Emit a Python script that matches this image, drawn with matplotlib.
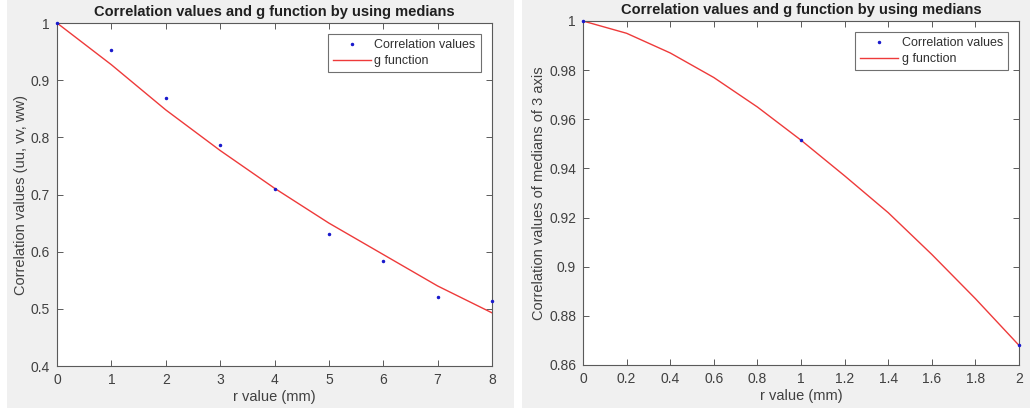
import numpy as np
import matplotlib
matplotlib.use('Agg')
import matplotlib.pyplot as plt
from matplotlib.patches import Rectangle
from matplotlib.ticker import FormatStrFormatter

plt.rcParams['font.family'] = ['Liberation Sans', 'DejaVu Sans']

# datos
r_pts = [0, 1, 2, 3, 4, 5, 6, 7, 8]
corr_pts = [1.0, 0.952, 0.868, 0.786, 0.709, 0.631, 0.583, 0.520, 0.514]
r_g = [0, 1, 2, 3, 4, 5, 6, 7, 8]
g_vals = [1.0, 0.927, 0.848, 0.777, 0.711, 0.650, 0.595, 0.540, 0.493]

r_pts2 = [0, 1, 2]
corr_pts2 = [1.0, 0.9515, 0.868]
r_g2 = [0, 0.2, 0.4, 0.6, 0.8, 1.0, 1.2, 1.4, 1.6, 1.8, 2.0]
g_vals2 = [1.0, 0.995, 0.987, 0.977, 0.965, 0.9515, 0.937, 0.922, 0.905, 0.887, 0.868]

bg = '#f0f0f0'
edge = '#5a5a5a'
txt = '#404040'

fig = plt.figure(figsize=(10.32, 4.12), dpi=100, facecolor='white')
# fondos grises de cada ventana
fig.add_artist(Rectangle((7/1032, 4/412), 507/1032, 408/412, transform=fig.transFigure,
                         facecolor=bg, edgecolor='none', zorder=-10))
fig.add_artist(Rectangle((522/1032, 4/412), 508/1032, 408/412, transform=fig.transFigure,
                         facecolor=bg, edgecolor='none', zorder=-10))

ax1 = fig.add_axes([57/1032, 1-366/412, 435/1032, 343/412])
ax2 = fig.add_axes([583/1032, 1-365/412, 436/1032, 344/412])


def estilo(ax, title, ylabel):
    ax.set_facecolor('white')
    for s in ax.spines.values():
        s.set_color(edge)
        s.set_linewidth(0.8)
    ax.tick_params(direction='in', top=True, right=True, length=4, width=0.7,
                   color=edge, labelcolor=txt, labelsize=10, pad=5)
    ax.yaxis.set_major_formatter(FormatStrFormatter('%g'))
    ax.xaxis.set_major_formatter(FormatStrFormatter('%g'))
    ax.set_title(title, fontsize=10.5, fontweight='bold', color='#202020', pad=5)
    ax.set_xlabel('r value (mm)', fontsize=10.5, color=txt, labelpad=2)
    ax.set_ylabel(ylabel, fontsize=10.5, color=txt, labelpad=2)
    leg = ax.legend(loc='upper right', fontsize=9, fancybox=False, framealpha=1,
                    edgecolor='#707070', handlelength=3.0, borderaxespad=0.9,
                    borderpad=0.4, labelspacing=0.3, handletextpad=0.3)
    leg.get_frame().set_linewidth(0.8)
    for t in leg.get_texts():
        t.set_color('#303030')


ax1.plot(r_pts, corr_pts, '.', color='#1a1acc', ms=3, label='Correlation values',
         clip_on=False, zorder=5)
ax1.plot(r_g, g_vals, '-', color='#ee3a3a', lw=1.0, label='g function')
ax1.set_xlim(0, 8)
ax1.set_ylim(0.4, 1)
ax1.set_xticks(np.arange(0, 9, 1))
ax1.set_yticks(np.arange(0.4, 1.01, 0.1))
estilo(ax1, 'Correlation values and g function by using medians',
       'Correlation values (uu, vv, ww)')

ax2.plot(r_pts2, corr_pts2, '.', color='#1a1acc', ms=3, label='Correlation values',
         clip_on=False, zorder=5)
ax2.plot(r_g2, g_vals2, '-', color='#ee3a3a', lw=1.0, label='g function')
ax2.set_xlim(0, 2)
ax2.set_ylim(0.86, 1)
ax2.set_xticks(np.arange(0, 2.01, 0.2))
ax2.set_yticks(np.arange(0.86, 1.001, 0.02))
estilo(ax2, 'Correlation values and g function by using medians',
       'Correlation values of medians of 3 axis')

fig.savefig('out.png', dpi=100, facecolor=fig.get_facecolor())
